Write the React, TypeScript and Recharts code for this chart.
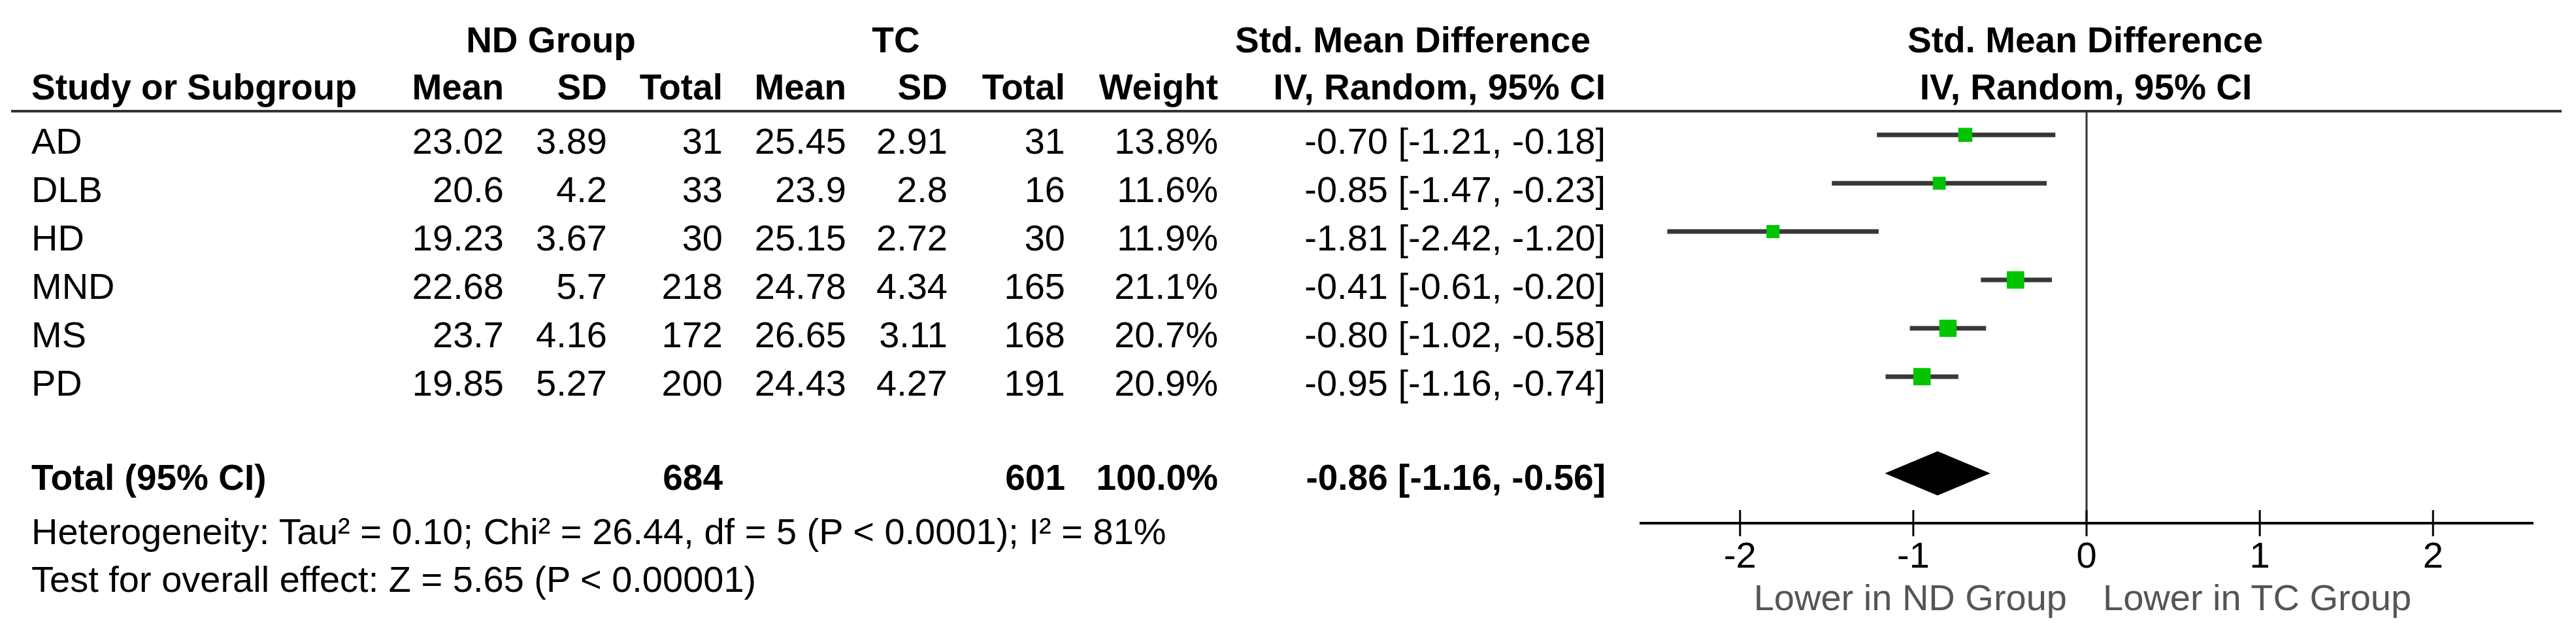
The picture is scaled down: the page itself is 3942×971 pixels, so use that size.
import React from "react";
import { ComposedChart, Scatter, XAxis, YAxis, ReferenceLine, Customized } from "recharts";

// study rows
const studies = ["AD", "DLB", "HD", "MND", "MS", "PD"];
const ndMean = [23.02, 20.6, 19.23, 22.68, 23.7, 19.85];
const ndSd = [3.89, 4.2, 3.67, 5.7, 4.16, 5.27];
const ndTotal = [31, 33, 30, 218, 172, 200];
const tcMean = [25.45, 23.9, 25.15, 24.78, 26.65, 24.43];
const tcSd = [2.91, 2.8, 2.72, 4.34, 3.11, 4.27];
const tcTotal = [31, 16, 30, 165, 168, 191];
const weights = [13.8, 11.6, 11.9, 21.1, 20.7, 20.9];
const smd = [-0.7, -0.85, -1.81, -0.41, -0.8, -0.95];
const ciLow = [-1.21, -1.47, -2.42, -0.61, -1.02, -1.16];
const ciHigh = [-0.18, -0.23, -1.2, -0.2, -0.58, -0.74];

// pooled result
const totalLabel = "Total (95% CI)";
const totalN = [684, 601];
const totalWeight = 100.0;
const pooled = [-0.86, -1.16, -0.56]; // estimate, low, high
const heterogeneity = "Heterogeneity: Tau\u00b2 = 0.10; Chi\u00b2 = 26.44, df = 5 (P < 0.0001); I\u00b2 = 81%";
const overallTest = "Test for overall effect: Z = 5.65 (P < 0.00001)";

const xTicks = [-2, -1, 0, 1, 2];
const favourLabels = ["Lower in ND Group", "Lower in TC Group"];

const W = 3942;
const H = 971;
const PLOT = { left: 2509, right: 3877, top: 170, bottom: 800 };
const X_DOMAIN: [number, number] = [-2.58, 2.58];
const Y_DOMAIN: [number, number] = [-0.49, 8.03];
const TOTAL_ROW = 7;
const FONT = '"Liberation Sans", Arial, Helvetica, sans-serif';
const FS = 56;
const FS_BOLD = 55;

// same y mapping as the (hidden) y axis, used to line the table up with the plot rows
const rowY = (i: number) =>
  PLOT.top + ((i - Y_DOMAIN[0]) * (PLOT.bottom - PLOT.top)) / (Y_DOMAIN[1] - Y_DOMAIN[0]);

const COL = {
  study: 48,
  ndMean: 771,
  ndSd: 929,
  ndTotal: 1106,
  tcMean: 1295,
  tcSd: 1450,
  tcTotal: 1630,
  weight: 1864,
  ci: 2457,
};

const points = studies.map((s, i) => ({ name: s, x: smd[i], y: i, w: weights[i] }));
const diamond = [
  { x: pooled[1], y: TOTAL_ROW },
  { x: pooled[0], y: TOTAL_ROW - 0.45 },
  { x: pooled[2], y: TOTAL_ROW },
  { x: pooled[0], y: TOTAL_ROW + 0.45 },
];

const fmt2 = (v: number) => v.toFixed(2);
const ciText = (e: number, lo: number, hi: number) => `${fmt2(e)} [${fmt2(lo)}, ${fmt2(hi)}]`;

function T({ x, y, children, anchor = "end", bold = false, fill = "#000" }: any) {
  return (
    <text
      x={x}
      y={y}
      textAnchor={anchor}
      fontFamily={FONT}
      fontSize={bold ? FS_BOLD : FS}
      fontWeight={bold ? "bold" : "normal"}
      fill={fill}
    >
      {children}
    </text>
  );
}

function Table() {
  const base = (i: number) => rowY(i) + 29;
  return (
    <g>
      <T x={843} y={80} anchor="middle" bold>ND Group</T>
      <T x={1371} y={80} anchor="middle" bold>TC</T>
      <T x={2162} y={80} anchor="middle" bold>Std. Mean Difference</T>
      <T x={3191} y={80} anchor="middle" bold>Std. Mean Difference</T>

      <T x={COL.study} y={152} anchor="start" bold>Study or Subgroup</T>
      <T x={COL.ndMean} y={152} bold>Mean</T>
      <T x={COL.ndSd} y={152} bold>SD</T>
      <T x={COL.ndTotal} y={152} bold>Total</T>
      <T x={COL.tcMean} y={152} bold>Mean</T>
      <T x={COL.tcSd} y={152} bold>SD</T>
      <T x={COL.tcTotal} y={152} bold>Total</T>
      <T x={COL.weight} y={152} bold>Weight</T>
      <T x={COL.ci} y={152} bold>IV, Random, 95% CI</T>
      <T x={3192} y={152} anchor="middle" bold>IV, Random, 95% CI</T>

      <line x1={17} x2={3920} y1={170} y2={170} stroke="#333" strokeWidth={4} />

      {studies.map((s, i) => (
        <g key={s}>
          <T x={COL.study} y={base(i)} anchor="start">{s}</T>
          <T x={COL.ndMean} y={base(i)}>{String(ndMean[i])}</T>
          <T x={COL.ndSd} y={base(i)}>{String(ndSd[i])}</T>
          <T x={COL.ndTotal} y={base(i)}>{String(ndTotal[i])}</T>
          <T x={COL.tcMean} y={base(i)}>{String(tcMean[i])}</T>
          <T x={COL.tcSd} y={base(i)}>{String(tcSd[i])}</T>
          <T x={COL.tcTotal} y={base(i)}>{String(tcTotal[i])}</T>
          <T x={COL.weight} y={base(i)}>{weights[i].toFixed(1)}%</T>
          <T x={COL.ci} y={base(i)}>{ciText(smd[i], ciLow[i], ciHigh[i])}</T>
        </g>
      ))}

      <T x={COL.study} y={base(TOTAL_ROW) - 4} anchor="start" bold>{totalLabel}</T>
      <T x={COL.ndTotal} y={base(TOTAL_ROW) - 4} bold>{String(totalN[0])}</T>
      <T x={COL.tcTotal} y={base(TOTAL_ROW) - 4} bold>{String(totalN[1])}</T>
      <T x={COL.weight} y={base(TOTAL_ROW) - 4} bold>{totalWeight.toFixed(1)}%</T>
      <T x={COL.ci} y={base(TOTAL_ROW) - 4} bold>{ciText(pooled[0], pooled[1], pooled[2])}</T>

      <T x={COL.study} y={832} anchor="start">{heterogeneity}</T>
      <T x={COL.study} y={905} anchor="start">{overallTest}</T>
    </g>
  );
}

function AxisTick({ x, y, payload }: any) {
  return (
    <g>
      <line x1={x} x2={x} y1={y - 20} y2={y + 20} stroke="#000" strokeWidth={3} />
      <text x={x} y={y + 68} textAnchor="middle" fontFamily={FONT} fontSize={FS} fill="#000">
        {payload.value}
      </text>
    </g>
  );
}

function FavourLabels({ viewBox }: any) {
  if (!viewBox) return null;
  const x = viewBox.x;
  const y = viewBox.y + viewBox.height + 133;
  return (
    <g>
      <T x={x - 30} y={y} anchor="end" fill="#555">{favourLabels[0]}</T>
      <T x={x + 25} y={y} anchor="start" fill="#555">{favourLabels[1]}</T>
    </g>
  );
}

const Empty = () => <g />;

function CiLine(p: any) {
  const pts = p.points || [];
  if (pts.length < 2) return <g />;
  return (
    <line x1={pts[0].x} y1={pts[0].y} x2={pts[1].x} y2={pts[1].y} stroke="#383838" strokeWidth={7} />
  );
}

function Square(p: any) {
  const w = p.payload?.w ?? p.w ?? 16;
  const s = 5.8 * Math.sqrt(w);
  return <rect x={p.cx - s / 2} y={p.cy - s / 2} width={s} height={s} fill="#00C400" />;
}

function DiamondShape(p: any) {
  const pts = (p.points || []).map((q: any) => `${q.x},${q.y}`).join(" ");
  return <polygon points={pts} fill="#000" stroke="#000" strokeWidth={1} />;
}

export default function App() {
  return (
    <div style={{ width: W, height: H, background: "#fff" }}>
      <style>{"body{margin:0;background:#fff}"}</style>
      <ComposedChart
        width={W}
        height={H}
        margin={{ top: PLOT.top, right: W - PLOT.right, bottom: 0, left: PLOT.left }}
      >
        <XAxis
          type="number"
          dataKey="x"
          domain={X_DOMAIN}
          ticks={xTicks}
          interval={0}
          allowDataOverflow
          height={H - PLOT.bottom}
          tickSize={0}
          tickMargin={0}
          tickLine={false}
          axisLine={{ stroke: "#000", strokeWidth: 4 }}
          tick={<AxisTick />}
        />
        <YAxis type="number" dataKey="y" domain={Y_DOMAIN} reversed hide allowDataOverflow />
        <ReferenceLine x={0} stroke="#333" strokeWidth={3} label={<FavourLabels />} />
        {studies.map((s, i) => (
          <Scatter
            key={s}
            data={[
              { x: ciLow[i], y: i },
              { x: ciHigh[i], y: i },
            ]}
            line={CiLine}
            shape={Empty}
            isAnimationActive={false}
          />
        ))}
        <Scatter data={points} shape={Square} isAnimationActive={false} />
        <Scatter data={diamond} line={DiamondShape} shape={Empty} isAnimationActive={false} />
        <Customized component={<Table />} />
      </ComposedChart>
    </div>
  );
}
